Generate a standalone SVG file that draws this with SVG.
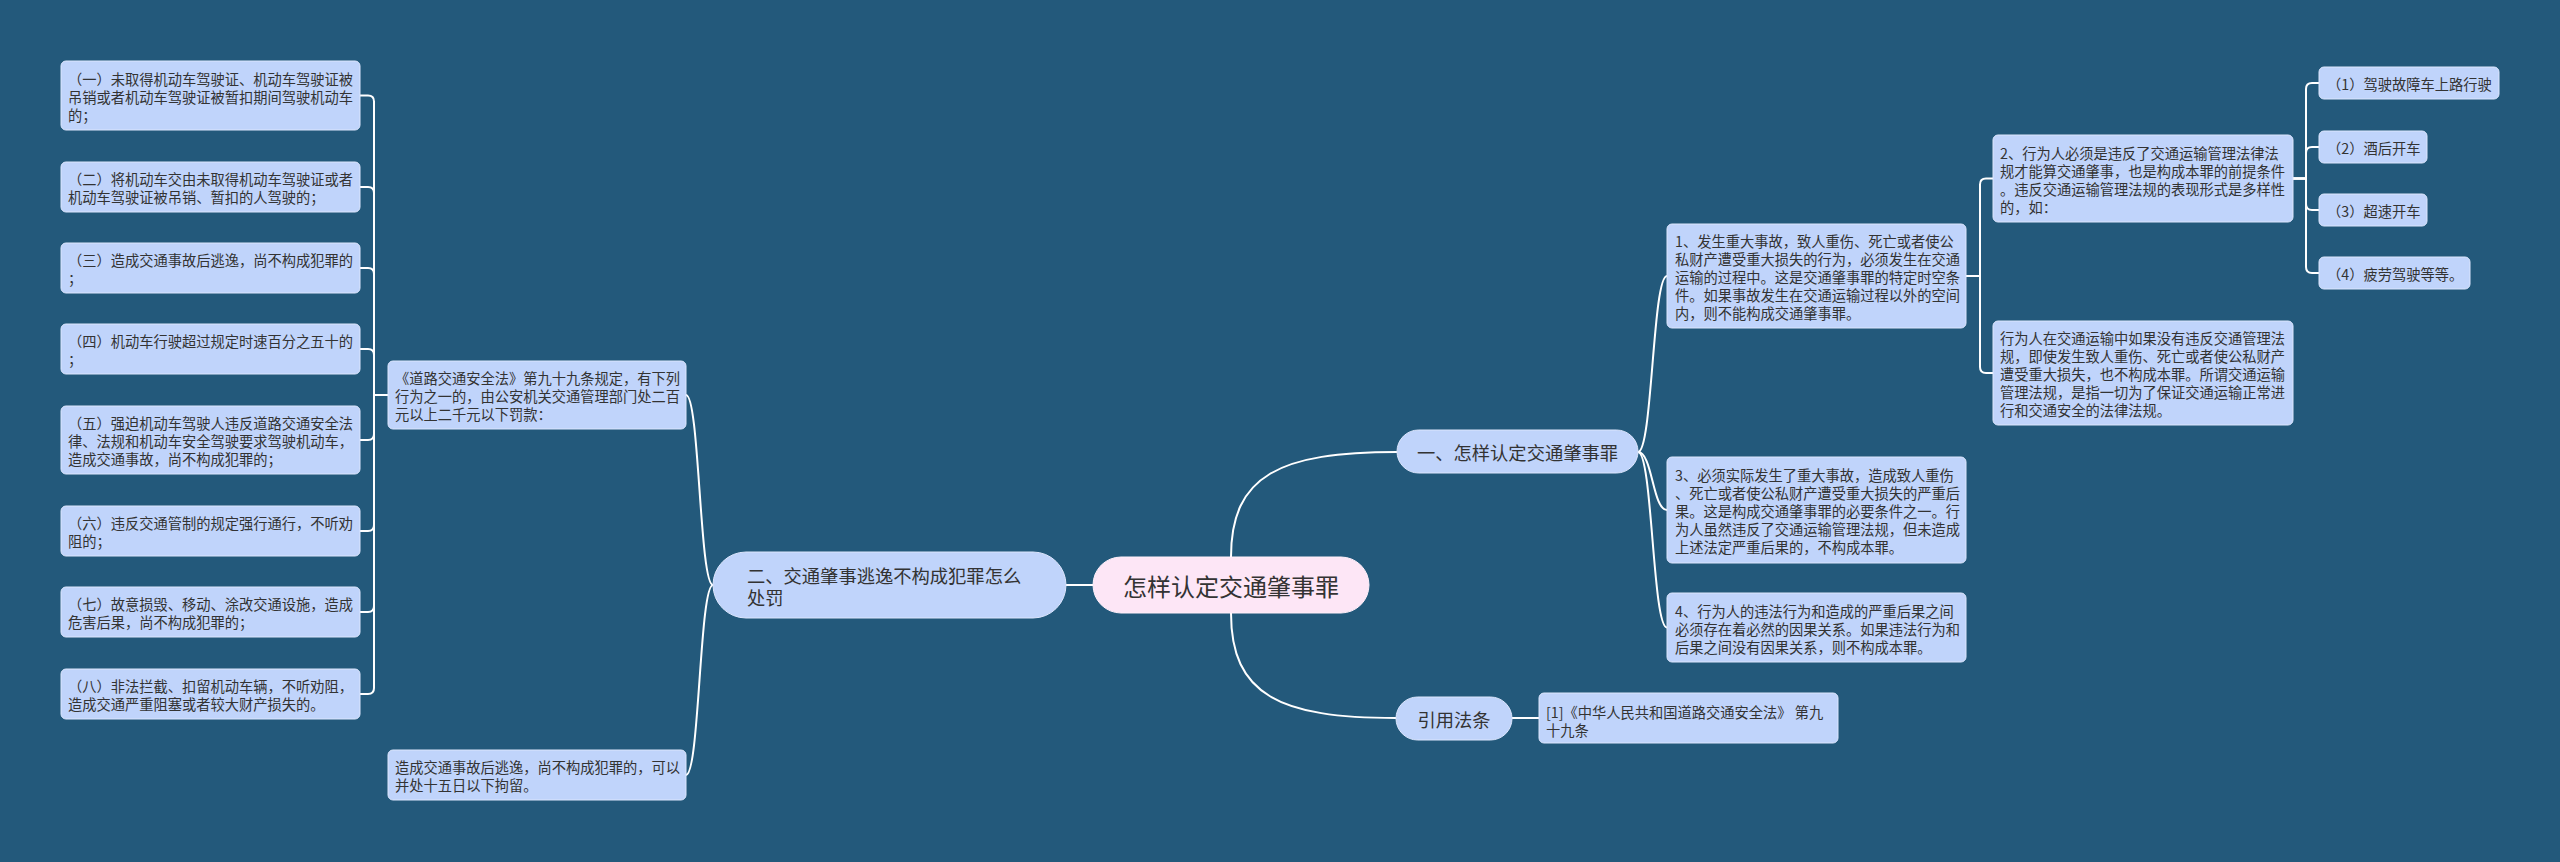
<svg xmlns="http://www.w3.org/2000/svg" width="2560" height="862" viewBox="0 0 2560 862">
<style>
.bg{fill:#23597b}
.n{fill:#c0d4fb;stroke:#dce6fd;stroke-width:1}
.root{fill:#fde6f6;stroke:#fff0fa;stroke-width:1}
text{font-family:"Noto Sans CJK SC","Microsoft YaHei",sans-serif;fill:#333333;dominant-baseline:central}
.s{font-size:14.25px}
.m{font-size:18.3px}
.l{font-size:24px}
.c{text-anchor:middle}
#edges path{fill:none;stroke:#ffffff;stroke-width:2}
</style>
<rect class="bg" x="0" y="0" width="2560" height="862"/>
<g id="edges">
<path d="M1093,585 H1066"/>
<path d="M1231,557 C1231,475 1280,452 1397,452"/>
<path d="M1231,613 C1231,695 1280,718 1396,718"/>
<path d="M1512,718 H1539"/>
<path d="M1638,452 C1652.5,452 1652.5,276 1667,276"/>
<path d="M1638,452 C1652.5,452 1652.5,510 1667,510"/>
<path d="M1638,452 C1652.5,452 1652.5,627.5 1667,627.5"/>
<path d="M1966,276 H1980 V184.5 Q1980,178.5 1986,178.5 H1993"/>
<path d="M1966,276 H1980 V367 Q1980,373 1986,373 H1993"/>
<path d="M2293,178.5 H2306 V89 Q2306,83 2312,83 H2319"/>
<path d="M2293,178.5 H2306 V153 Q2306,147 2312,147 H2319"/>
<path d="M2293,178.5 H2306 V204 Q2306,210 2312,210 H2319"/>
<path d="M2293,178.5 H2306 V267 Q2306,273 2312,273 H2319"/>
<path d="M713,585 C699.5,585 699.5,395 686,395"/>
<path d="M713,585 C699.5,585 699.5,775 686,775"/>
<path d="M388,395 H374 V101.5 Q374,95.5 368,95.5 H360"/>
<path d="M388,395 H374 V193 Q374,187 368,187 H360"/>
<path d="M388,395 H374 V274 Q374,268 368,268 H360"/>
<path d="M388,395 H374 V355 Q374,349 368,349 H360"/>
<path d="M388,395 H374 V434 Q374,440 368,440 H360"/>
<path d="M388,395 H374 V525 Q374,531 368,531 H360"/>
<path d="M388,395 H374 V606 Q374,612 368,612 H360"/>
<path d="M388,395 H374 V688 Q374,694 368,694 H360"/>
</g>
<g id="root">
<rect class="root" x="1093" y="557" width="276" height="56" rx="28"/>
<text class="l c" x="1231" y="585">怎样认定交通肇事罪</text>
</g>
<g id="n-one">
<rect class="n" x="1397" y="430" width="241" height="43" rx="21.5"/>
<text class="m c" x="1517.5" y="451.5">一、怎样认定交通肇事罪</text>
</g>
<g id="n-two">
<rect class="n" x="713" y="552" width="353" height="66" rx="33"/>
<text class="m" x="747"><tspan x="747" y="575">二、交通肇事逃逸不构成犯罪怎么</tspan><tspan x="747" y="597">处罚</tspan></text>
</g>
<g id="n-cite">
<rect class="n" x="1396" y="697" width="116" height="43" rx="21.5"/>
<text class="m c" x="1454" y="718.5">引用法条</text>
</g>
<g id="n-cite-1">
<rect class="n" x="1539" y="693" width="299" height="50" rx="5"/>
<text class="s"><tspan x="1546" y="711">[1]《中华人民共和国道路交通安全法》 第九</tspan><tspan x="1546" y="729">十九条</tspan></text>
</g>
<g id="n-r1">
<rect class="n" x="1667" y="224" width="299" height="104" rx="5"/>
<text class="s"><tspan x="1675" y="240">1、发生重大事故，致人重伤、死亡或者使公</tspan><tspan x="1675" y="258">私财产遭受重大损失的行为，必须发生在交通</tspan><tspan x="1675" y="276">运输的过程中。这是交通肇事罪的特定时空条</tspan><tspan x="1675" y="294">件。如果事故发生在交通运输过程以外的空间</tspan><tspan x="1675" y="312">内，则不能构成交通肇事罪。</tspan></text>
</g>
<g id="n-r2">
<rect class="n" x="1993" y="135" width="300" height="87" rx="5"/>
<text class="s"><tspan x="2000" y="151.5">2、行为人必须是违反了交通运输管理法律法</tspan><tspan x="2000" y="169.5">规才能算交通肇事，也是构成本罪的前提条件</tspan><tspan x="2000" y="187.5">。违反交通运输管理法规的表现形式是多样性</tspan><tspan x="2000" y="205.5">的，如：</tspan></text>
</g>
<g id="n-r2a">
<rect class="n" x="2319" y="67" width="180" height="32" rx="5"/>
<text class="s" x="2327" y="83">（1）驾驶故障车上路行驶</text>
</g>
<g id="n-r2b">
<rect class="n" x="2319" y="131" width="108" height="32" rx="5"/>
<text class="s" x="2327" y="147">（2）酒后开车</text>
</g>
<g id="n-r2c">
<rect class="n" x="2319" y="194" width="108" height="32" rx="5"/>
<text class="s" x="2327" y="210">（3）超速开车</text>
</g>
<g id="n-r2d">
<rect class="n" x="2319" y="257" width="151" height="32" rx="5"/>
<text class="s" x="2327" y="273">（4）疲劳驾驶等等。</text>
</g>
<g id="n-r2e">
<rect class="n" x="1993" y="321" width="300" height="104" rx="5"/>
<text class="s"><tspan x="2000" y="337">行为人在交通运输中如果没有违反交通管理法</tspan><tspan x="2000" y="355">规，即使发生致人重伤、死亡或者使公私财产</tspan><tspan x="2000" y="373">遭受重大损失，也不构成本罪。所谓交通运输</tspan><tspan x="2000" y="391">管理法规，是指一切为了保证交通运输正常进</tspan><tspan x="2000" y="409">行和交通安全的法律法规。</tspan></text>
</g>
<g id="n-r3">
<rect class="n" x="1667" y="457" width="299" height="106" rx="5"/>
<text class="s"><tspan x="1675" y="474">3、必须实际发生了重大事故，造成致人重伤</tspan><tspan x="1675" y="492">、死亡或者使公私财产遭受重大损失的严重后</tspan><tspan x="1675" y="510">果。这是构成交通肇事罪的必要条件之一。行</tspan><tspan x="1675" y="528">为人虽然违反了交通运输管理法规，但未造成</tspan><tspan x="1675" y="546">上述法定严重后果的，不构成本罪。</tspan></text>
</g>
<g id="n-r4">
<rect class="n" x="1667" y="593" width="299" height="69" rx="5"/>
<text class="s"><tspan x="1675" y="609.5">4、行为人的违法行为和造成的严重后果之间</tspan><tspan x="1675" y="627.5">必须存在着必然的因果关系。如果违法行为和</tspan><tspan x="1675" y="645.5">后果之间没有因果关系，则不构成本罪。</tspan></text>
</g>
<g id="n-law">
<rect class="n" x="388" y="361" width="298" height="68" rx="5"/>
<text class="s"><tspan x="395" y="377">《道路交通安全法》第九十九条规定，有下列</tspan><tspan x="395" y="395">行为之一的，由公安机关交通管理部门处二百</tspan><tspan x="395" y="413">元以上二千元以下罚款：</tspan></text>
</g>
<g id="n-escape">
<rect class="n" x="388" y="750" width="298" height="50" rx="5"/>
<text class="s"><tspan x="395" y="766">造成交通事故后逃逸，尚不构成犯罪的，可以</tspan><tspan x="395" y="784">并处十五日以下拘留。</tspan></text>
</g>
<g id="n-l1">
<rect class="n" x="61" y="61" width="299" height="69" rx="5"/>
<text class="s"><tspan x="68" y="77.5">（一）未取得机动车驾驶证、机动车驾驶证被</tspan><tspan x="68" y="95.5">吊销或者机动车驾驶证被暂扣期间驾驶机动车</tspan><tspan x="68" y="113.5">的；</tspan></text>
</g>
<g id="n-l2">
<rect class="n" x="61" y="162" width="299" height="50" rx="5"/>
<text class="s"><tspan x="68" y="178">（二）将机动车交由未取得机动车驾驶证或者</tspan><tspan x="68" y="196">机动车驾驶证被吊销、暂扣的人驾驶的；</tspan></text>
</g>
<g id="n-l3">
<rect class="n" x="61" y="243" width="299" height="50" rx="5"/>
<text class="s"><tspan x="68" y="259">（三）造成交通事故后逃逸，尚不构成犯罪的</tspan><tspan x="68" y="277">；</tspan></text>
</g>
<g id="n-l4">
<rect class="n" x="61" y="324" width="299" height="50" rx="5"/>
<text class="s"><tspan x="68" y="340">（四）机动车行驶超过规定时速百分之五十的</tspan><tspan x="68" y="358">；</tspan></text>
</g>
<g id="n-l5">
<rect class="n" x="61" y="406" width="299" height="68" rx="5"/>
<text class="s"><tspan x="68" y="422">（五）强迫机动车驾驶人违反道路交通安全法</tspan><tspan x="68" y="440">律、法规和机动车安全驾驶要求驾驶机动车，</tspan><tspan x="68" y="458">造成交通事故，尚不构成犯罪的；</tspan></text>
</g>
<g id="n-l6">
<rect class="n" x="61" y="506" width="299" height="50" rx="5"/>
<text class="s"><tspan x="68" y="522">（六）违反交通管制的规定强行通行，不听劝</tspan><tspan x="68" y="540">阻的；</tspan></text>
</g>
<g id="n-l7">
<rect class="n" x="61" y="587" width="299" height="50" rx="5"/>
<text class="s"><tspan x="68" y="603">（七）故意损毁、移动、涂改交通设施，造成</tspan><tspan x="68" y="621">危害后果，尚不构成犯罪的；</tspan></text>
</g>
<g id="n-l8">
<rect class="n" x="61" y="669" width="299" height="50" rx="5"/>
<text class="s"><tspan x="68" y="685">（八）非法拦截、扣留机动车辆，不听劝阻，</tspan><tspan x="68" y="703">造成交通严重阻塞或者较大财产损失的。</tspan></text>
</g>
</svg>
